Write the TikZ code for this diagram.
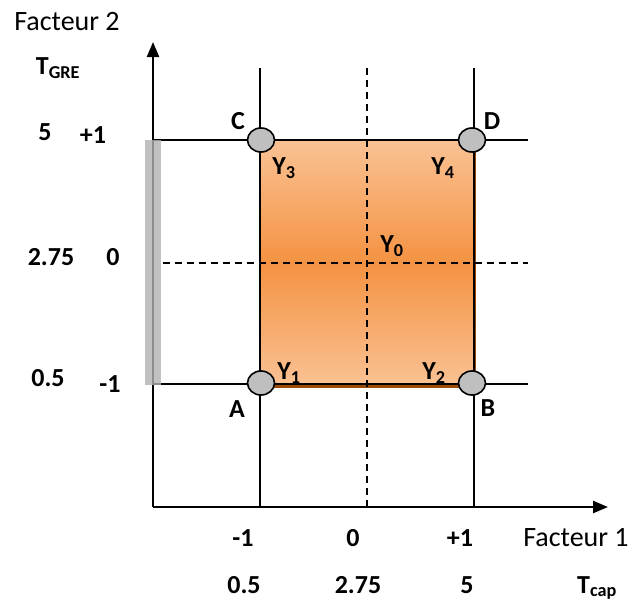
\documentclass[tikz,border=0pt]{standalone}
\usepackage{fontspec}
\setmainfont{Carlito}
\usetikzlibrary{arrows.meta,shapes.geometric}
\definecolor{peach}{RGB}{250,194,148}
\definecolor{orangemid}{RGB}{244,146,66}
\definecolor{brownedge}{RGB}{156,74,8}
\begin{document}
\begin{tikzpicture}[x=1pt,y=-1pt,
 gridline/.style={line width=1.8pt},
 dgrid/.style={line width=1.6pt,dash pattern=on 7pt off 5pt},
 axis/.style={line width=2.4pt,-{Triangle[length=15pt,width=12pt]}},
 corner/.style={ellipse,draw=black,line width=1.6pt,fill=gray!50,minimum width=27pt,minimum height=24pt,inner sep=0pt},
 lab/.style={font=\fontsize{26}{30}\selectfont\bfseries,inner sep=0pt},
 ttl/.style={font=\fontsize{28}{33}\selectfont,inner sep=0pt}]
\useasboundingbox (0,0) rectangle (632,600);
% shaded region
\fill[top color=peach,bottom color=peach,middle color=orangemid] (260,140) rectangle (474,386);
\draw[brownedge,line width=3pt] (474,141) -- (474,386) -- (262,386);
% coordinates
\coordinate (O) at (153,507);
\coordinate (ytop) at (153,42);
\coordinate (xend) at (608,507);
\coordinate (v1t) at (260,68); \coordinate (v1b) at (260,507);
\coordinate (v0t) at (367,68); \coordinate (v0b) at (367,507);
\coordinate (v2t) at (474,68); \coordinate (v2b) at (474,507);
\coordinate (h1l) at (153,140); \coordinate (h1r) at (528,140);
\coordinate (h0l) at (163,263); \coordinate (h0r) at (528,263);
\coordinate (h2l) at (153,384); \coordinate (h2r) at (528,384);
% grid
\draw[gridline] (v1t) -- (v1b);
\draw[gridline] (v2t) -- (v2b);
\draw[dgrid] (v0t) -- (v0b);
\draw[gridline] (h1l) -- (h1r);
\draw[gridline] (h2l) -- (h2r);
\draw[dgrid] (h0l) -- (h0r);
% axes
\draw[axis] (O) -- (ytop);
\draw[axis] (O) -- (xend);
% gray bar
\fill[gray!60,fill opacity=0.8] (145,140) rectangle (161,385);
% corner points
\node[corner] (C) at (261,140) {};
\node[corner] (D) at (472,140) {};
\node[corner] (A) at (261,383) {};
\node[corner] (B) at (472,383) {};
% corner labels
\node[lab] (lC) at (238,121) {C};
\node[lab] (lD) at (492,121) {D};
\node[lab] (lA) at (237,409) {A};
\node[lab] (lB) at (488,408) {B};
\node[lab] (Y3) at (284,168) {Y\textsubscript{3}};
\node[lab] (Y4) at (443,168) {Y\textsubscript{4}};
\node[lab] (Y0) at (392,246) {Y\textsubscript{0}};
\node[lab] (Y1) at (289,373) {Y\textsubscript{1}};
\node[lab] (Y2) at (434,373) {Y\textsubscript{2}};
% axis titles
\node[ttl] (f2) at (67,22) {Facteur 2};
\node[ttl] (f1) at (576,538) {Facteur 1};
\node[lab] (tgre) at (58,68) {T\textsubscript{GRE}};
\node[lab] (tcap) at (597,588) {T\textsubscript{cap}};
% vertical axis values
\node[lab] (y5) at (45,132) {5};
\node[lab] (yp1) at (93,135) {+1};
\node[lab] (y275) at (51,257) {2.75};
\node[lab] (y0) at (113,257) {0};
\node[lab] (y05) at (48,378) {0.5};
\node[lab] (ym1) at (110,384) {-1};
% horizontal axis values
\node[lab] (xm1) at (243,538) {-1};
\node[lab] (x0) at (353,538) {0};
\node[lab] (xp1) at (460,538) {+1};
\node[lab] (x05) at (244,585) {0.5};
\node[lab] (x275) at (358,585) {2.75};
\node[lab] (x5) at (467,585) {5};
\end{tikzpicture}
\end{document}
